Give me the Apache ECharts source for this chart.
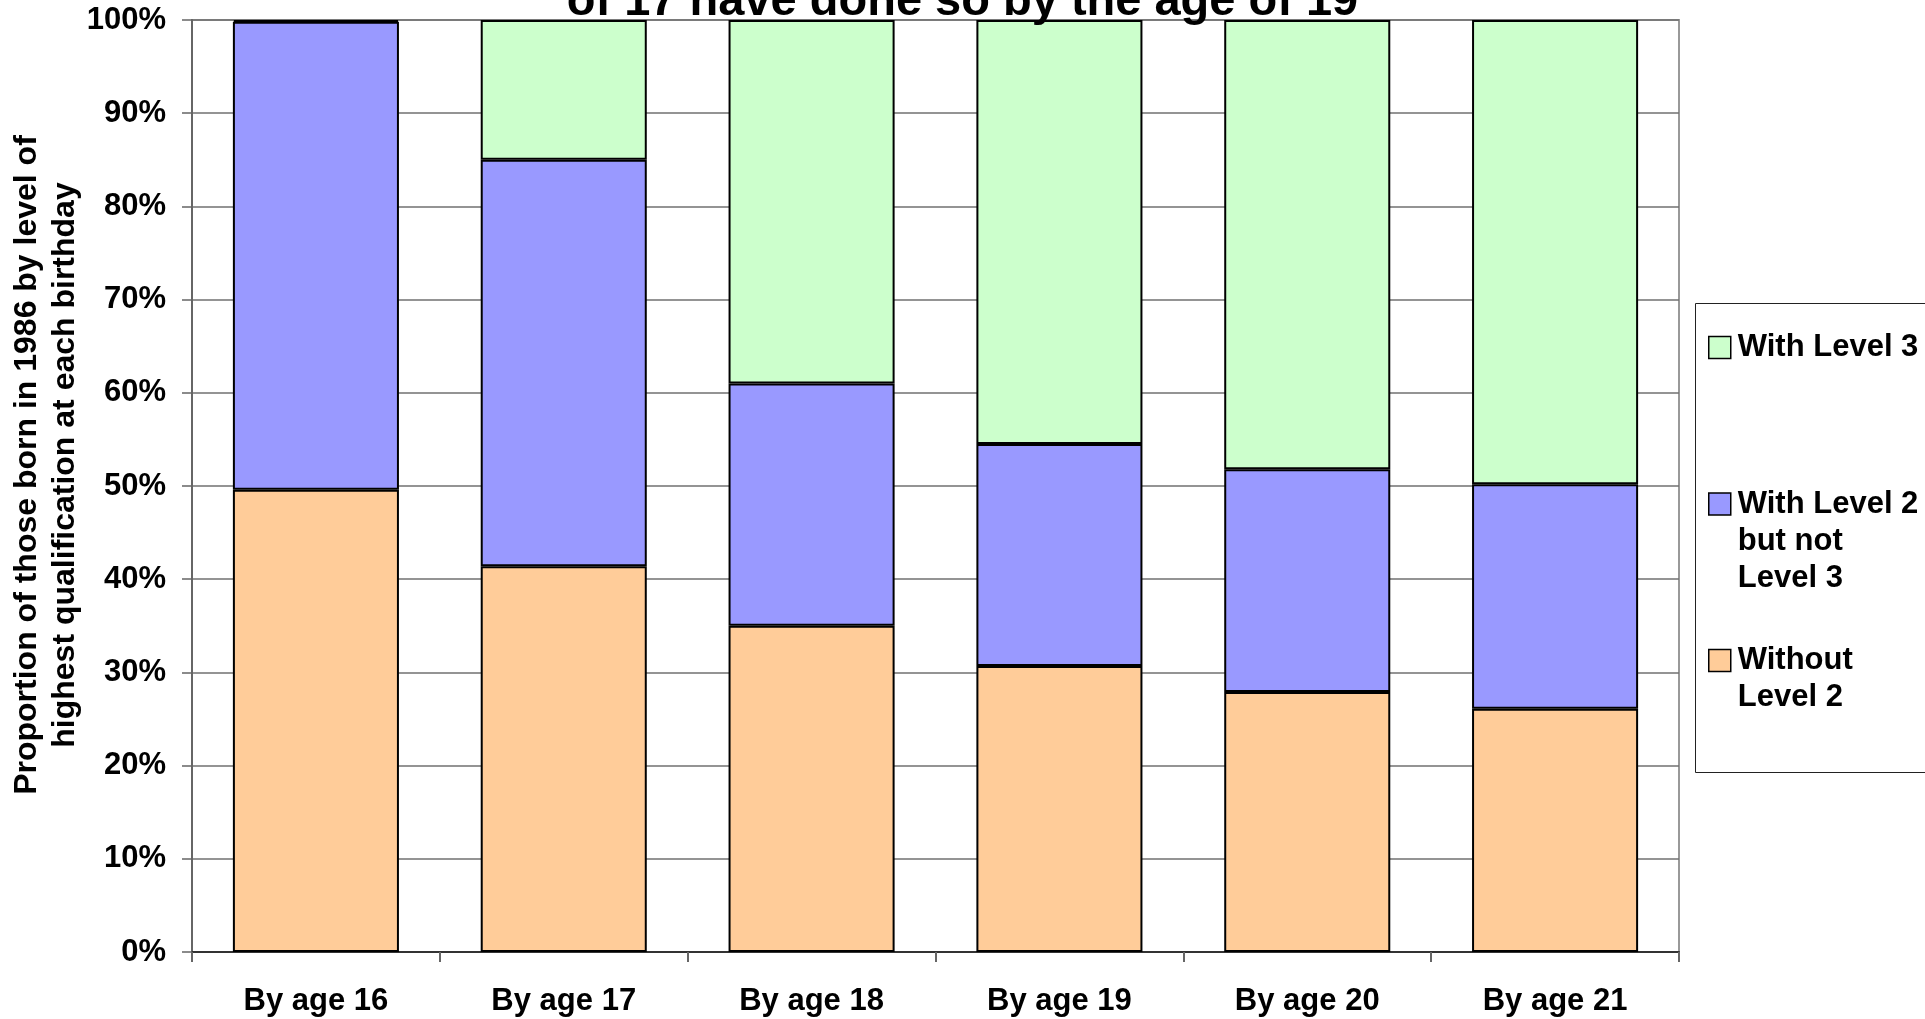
<!DOCTYPE html>
<html>
<head>
<meta charset="utf-8">
<script src="https://cdn.jsdelivr.net/npm/echarts@6/dist/echarts.min.js"></script>
<style>html,body{margin:0;padding:0;background:#fff;}#chart{width:1925px;height:1019px;}</style>
</head>
<body>
<div id="chart"></div>
<script>
const categories = ['By age 16', 'By age 17', 'By age 18', 'By age 19', 'By age 20', 'By age 21'];
const withoutLevel2 = [49.6, 41.4, 35.0, 30.7, 27.9, 26.1];
const level2NotLevel3 = [50.2, 43.6, 26.0, 23.8, 23.9, 24.1];
const withLevel3 = [0.2, 15.0, 39.0, 45.5, 48.2, 49.8];
const seriesNames = ['Without Level 2', 'With Level 2 but not Level 3', 'With Level 3'];
const legendLabels = {
  'With Level 3': '\nWith Level 3\n',
  'With Level 2 but not Level 3': '\n\nWith Level 2\nbut not\nLevel 3',
  'Without Level 2': '\nWithout\nLevel 2'
};
const titleText = 'of 17 have done so by the age of 19';
const yAxisTitle = 'Proportion of those born in 1986 by level of\nhighest qualification at each birthday';

const FONT = 'Liberation Sans, Arial, sans-serif';
const chart = echarts.init(document.getElementById('chart'), null, {renderer: 'canvas'});
const barStyle = (color) => ({color: color, borderColor: '#000', borderWidth: 2});
chart.setOption({
  animation: false,
  backgroundColor: '#fff',
  title: {
    text: titleText,
    left: 'center',
    top: -26,
    textStyle: {fontFamily: FONT, fontSize: 47, fontWeight: 'bold', color: '#000'}
  },
  grid: {left: 192, right: 246, top: 20, bottom: 67, containLabel: false, outerBoundsMode: 'none', show: true, borderColor: '#999', borderWidth: 2, backgroundColor: 'transparent'},
  legend: {
    orient: 'vertical',
    left: 1708,
    top: 292,
    padding: 0,
    itemGap: 8.5,
    itemWidth: 22,
    itemHeight: 22,
    selectedMode: false,
    icon: 'rect',
    data: ['With Level 3', 'With Level 2 but not Level 3', 'Without Level 2'],
    formatter: (name) => legendLabels[name],
    itemStyle: {borderColor: '#000', borderWidth: 1.5},
    textStyle: {fontFamily: FONT, fontSize: 31, fontWeight: 'bold', color: '#000', lineHeight: 37, padding: [0, 0, 0, 2]}
  },
  graphic: [{
    type: 'rect',
    shape: {x: 1695.5, y: 303.5, width: 240, height: 469},
    style: {fill: 'none', stroke: '#222', lineWidth: 1},
    silent: true,
    z: -1
  }],
  xAxis: {
    type: 'category',
    data: categories,
    axisLine: {lineStyle: {color: '#333', width: 2}},
    axisTick: {show: true, length: 10, lineStyle: {color: '#666', width: 2}},
    axisLabel: {fontFamily: FONT, fontSize: 31, fontWeight: 'bold', color: '#000', margin: 34},
    splitLine: {show: false}
  },
  yAxis: {
    type: 'value',
    min: 0,
    max: 100,
    interval: 10,
    name: yAxisTitle,
    nameLocation: 'middle',
    nameRotate: 90,
    nameGap: 108,
    nameMoveOverlap: false,
    nameTextStyle: {fontFamily: FONT, fontSize: 32, fontWeight: 'bold', color: '#000', lineHeight: 38, padding: [0, 0, 0, 42]},
    axisLine: {show: true, lineStyle: {color: '#666', width: 2}},
    axisTick: {show: true, length: 10, lineStyle: {color: '#666', width: 1.5}},
    axisLabel: {fontFamily: FONT, fontSize: 31, fontWeight: 'bold', color: '#000', margin: 26, formatter: '{value}%'},
    splitLine: {show: true, lineStyle: {color: '#707070', width: 1.5}}
  },
  series: [
    {name: seriesNames[0], type: 'bar', stack: 'total', data: withoutLevel2, barCategoryGap: '33%', itemStyle: barStyle('#FFCC99')},
    {name: seriesNames[1], type: 'bar', stack: 'total', data: level2NotLevel3, barCategoryGap: '33%', itemStyle: barStyle('#9999FF')},
    {name: seriesNames[2], type: 'bar', stack: 'total', data: withLevel3, barCategoryGap: '33%', itemStyle: barStyle('#CCFFCC')}
  ]
});
</script>
</body>
</html>
